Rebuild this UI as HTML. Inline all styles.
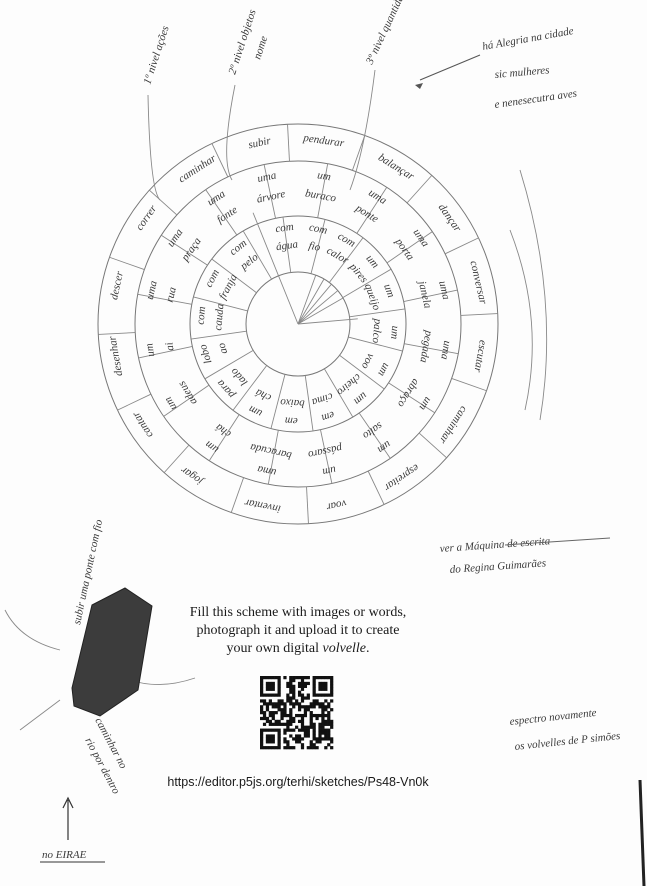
<!DOCTYPE html>
<html><head><meta charset="utf-8"><style>
html,body{margin:0;padding:0;background:#fff}
svg{display:block}
.h{font-family:"Liberation Serif",serif;font-style:italic;fill:#3a3a3a;font-size:11px}
.f{font-family:"Liberation Serif",serif;fill:#1a1a1a;font-size:14px}
.u{font-family:"Liberation Sans",sans-serif;fill:#1a1a1a;font-size:12.5px}
</style></head><body>
<svg id="s" width="647" height="886" viewBox="0 0 647 886" xmlns="http://www.w3.org/2000/svg">
<rect width="647" height="886" fill="#fdfdfd"/>
<line x1="640" y1="780" x2="644" y2="886" stroke="#222" stroke-width="3"/>
<g fill="none" stroke="#777" stroke-width="1">
<circle cx="298" cy="324" r="200"/>
<circle cx="298" cy="324" r="163"/>
<circle cx="298" cy="324" r="108"/>
<circle cx="298" cy="324" r="52"/>
</g>
<g id="rad" stroke="#888" stroke-width="0.9"></g>
<g id="txt"></g>
<g fill="none" stroke="#888" stroke-width="0.9">
<path d="M148 95 Q150 190 160 200"/>
<path d="M235 85 Q220 160 232 180"/>
<path d="M375 70 Q365 150 350 190"/>
<path d="M520 170 Q560 300 540 420"/>
<path d="M510 230 Q545 320 525 410"/>
<path d="M5 610 Q20 640 60 650"/>
<path d="M130 680 Q160 690 195 678"/>
<path d="M20 730 L60 700"/>
</g>
<path d="M420 80 L480 55" stroke="#555" fill="none"/>
<path d="M415 85 l8 -2 l-3 6z" fill="#555"/>
<path d="M68 840 L68 800 M63 808 L68 798 L73 808" stroke="#333" fill="none" stroke-width="1.2"/>
<line x1="40" y1="862" x2="105" y2="862" stroke="#333"/>
<polygon points="72,688 92,605 125,588 152,606 138,690 100,716 74,706" fill="#3c3c3c" stroke="#222"/>
<text class="h" transform="translate(150,85) rotate(-72)">1º nivel ações</text>
<text class="h" transform="translate(235,75) rotate(-72)">2º nivel objetos</text>
<text class="h" transform="translate(260,60) rotate(-72)">nome</text>
<text class="h" transform="translate(372,65) rotate(-65)">3º nivel quantidade</text>
<text class="h" x="483" y="50" transform="rotate(-10 483 50)">há Alegria na cidade</text>
<text class="h" x="495" y="78" transform="rotate(-5 495 78)">sic mulheres</text>
<text class="h" x="495" y="108" transform="rotate(-8 495 108)">e nenesecutra aves</text>
<text class="h" x="440" y="552" transform="rotate(-4 440 552)">ver a Máquina de escrita</text>
<text class="h" x="450" y="573" transform="rotate(-4 450 573)">do Regina Guimarães</text>
<line x1="505" y1="545" x2="610" y2="538" stroke="#666"/>
<text class="h" x="510" y="725" transform="rotate(-6 510 725)">espectro novamente</text>
<text class="h" x="515" y="750" transform="rotate(-6 515 750)">os volvelles de P simões</text>
<text class="h" transform="translate(80,625) rotate(-78)">subir uma ponte com fio</text>
<text class="h" transform="translate(95,720) rotate(62)">caminhar no</text>
<text class="h" transform="translate(85,740) rotate(62)">rio por dentro</text>
<text class="h" x="42" y="858" font-size="9">no EIRAE</text>
<text class="f" x="298" y="616" text-anchor="middle">Fill this scheme with images or words,</text>
<text class="f" x="298" y="634" text-anchor="middle">photograph it and upload it to create</text>
<text class="f" x="298" y="652" text-anchor="middle">your own digital <tspan font-style="italic">volvelle</tspan>.</text>
<g id="qr" transform="translate(260,676)"></g>
<text class="u" x="298" y="786" text-anchor="middle">https://editor.p5js.org/terhi/sketches/Ps48-Vn0k</text>
</svg>
<script>
var NS="http://www.w3.org/2000/svg",cx=298,cy=324;
function el(n,a,p){var e=document.createElementNS(NS,n);for(var k in a)e.setAttribute(k,a[k]);p.appendChild(e);return e;}
var rad=document.getElementById('rad');
function line(r1,r2,a){var t=(a-90)*Math.PI/180;el('line',{x1:cx+r1*Math.cos(t),y1:cy+r1*Math.sin(t),x2:cx+r2*Math.cos(t),y2:cy+r2*Math.sin(t)},rad);}
for(var i=0;i<16;i++){line(163,200,-3+i*22.5);line(108,163,-12+i*22.5);line(52,108,-8+i*22.5);}
[-10,0,10,20,30].forEach(function(a){line(0,52,a+30);});
line(0,120,-22);line(0,60,85);
var tx=document.getElementById('txt');
function lab(arr,r,fs){arr.forEach(function(p){var t=(p[1]-90)*Math.PI/180;var x=cx+r*Math.cos(t),y=cy+r*Math.sin(t);var e=el('text',{class:'h','text-anchor':'middle','font-size':fs,transform:'translate('+x+','+y+') rotate('+p[1]+')'},tx);e.textContent=p[0];});}
lab([["pendurar",8],["balançar",32],["dançar",55],["conversar",77],["escutar",100],["caminhar",123],["espreitar",146],["voar",168],["inventar",191],["jogar",215],["cantar",237],["desenhar",260],["descer",282],["correr",305],["caminhar",327],["subir",348]],182,11);
var mid=[["uma","árvore",348],["um","buraco",10],["uma","ponte",32],["uma","porta",55],["uma","janela",77],["uma","pegada",100],["um","abraço",122],["um","salto",145],["um","pássaro",168],["uma","baracuda",192],["um","chá",215],["um","adeus",238],["um","ai",260],["uma","rua",283],["uma","praça",305],["uma","fonte",327]];
lab(mid.map(function(m){return [m[0],m[2]];}),147,10.5);
lab(mid.map(function(m){return [m[1],m[2]];}),127,11);
lab([["com",352],["com",12],["com",30],["um",50],["um",70],["um",95],["um",118],["um",140],["em",162],["em",184],["um",206],["para",228],["lobo",252],["com",275],["com",298],["com",322]],94,9);
lab([["água",352],["fio",12],["calor",30],["pires",50],["queijo",70],["palco",95],["voo",118],["cheiro",140],["cima",162],["baixo",184],["chá",206],["lado",228],["ao",252],["cauda",275],["franja",298],["pelo",322]],76,9);
var q=document.getElementById('qr'),N=25,s=73/N,seed=7;
function rnd(){seed=(seed*9301+49297)%233280;return seed/233280;}
function fin(x,y){for(var a=0;a<7;a++)for(var b=0;b<7;b++){var on=(a==0||a==6||b==0||b==6)||(a>=2&&a<=4&&b>=2&&b<=4);if(on)el('rect',{x:(x+a)*s,y:(y+b)*s,width:s+0.3,height:s+0.3,fill:'#111'},q);}}
for(var a=0;a<N;a++)for(var b=0;b<N;b++){if((a<8&&b<8)||(a>=N-8&&b<8)||(a<8&&b>=N-8))continue;if(rnd()<0.5)el('rect',{x:a*s,y:b*s,width:s+0.3,height:s+0.3,fill:'#111'},q);}
fin(0,0);fin(N-7,0);fin(0,N-7);
</script>
</body></html>
